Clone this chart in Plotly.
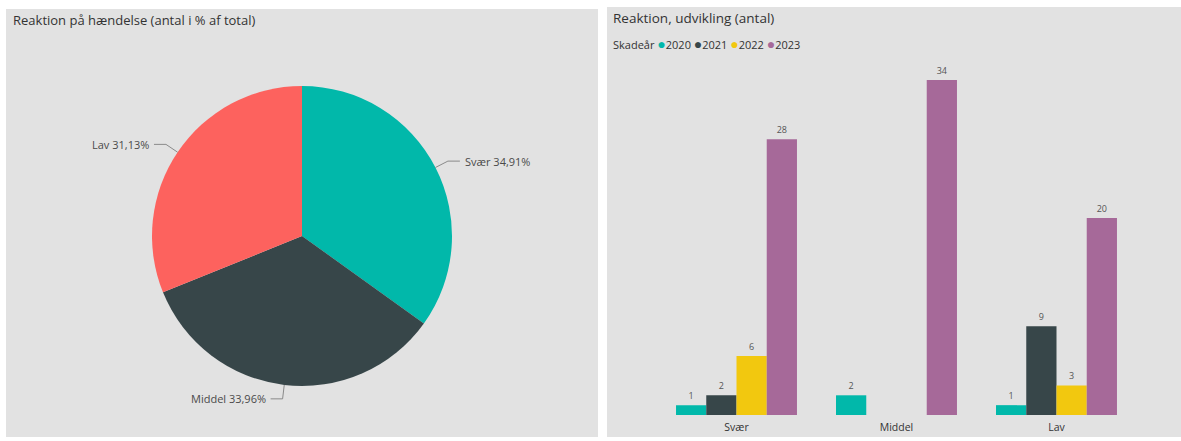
import math
import plotly.graph_objects as go

# ---- data ----
categories = ["Svær", "Middel", "Lav"]
years = ["2020", "2021", "2022", "2023"]
counts_2020 = [1, 2, 1]
counts_2021 = [2, None, 9]
counts_2022 = [6, None, 3]
counts_2023 = [28, 34, 20]
year_values = [counts_2020, counts_2021, counts_2022, counts_2023]
year_colors = ["#01B8AA", "#374649", "#F2C80F", "#A66999"]

pie_labels = categories
pie_values = [sum(v or 0 for v in col) for col in zip(*year_values)]
pie_colors = ["#01B8AA", "#374649", "#FD625E"]

left_title = "Reaktion på hændelse (antal i % af total)"
right_title = "Reaktion, udvikling (antal)"
legend_title = "Skadeår"

# ---- layout geometry ----
W, H = 1181, 441
FONT = "Open Sans"
BG = "#e2e2e2"
TXT = "#4a4a4a"

def px(x):
    return x / W

def py(y):
    return (H - y) / H

fig = go.Figure()

# pie
cx, cy, R = 302, 236, 150
fig.add_trace(go.Pie(
    labels=pie_labels, values=pie_values, sort=False, direction="clockwise",
    rotation=0, marker=dict(colors=pie_colors, line=dict(width=0)),
    textinfo="none", hoverinfo="label+percent", showlegend=False,
    domain=dict(x=[px(cx - R), px(cx + R)], y=[py(cy + R), py(cy - R)]),
))

# pie labels with leader lines computed from the values
total = sum(pie_values)
cum = 0
shapes = []
annotations = []
for lab, val in zip(pie_labels, pie_values):
    mid = (cum + val / 2) / total * 2 * math.pi
    cum += val
    s, c = math.sin(mid), math.cos(mid)
    ex, ey = cx + R * s, cy - R * c
    ox, oy = cx + (R + 14) * s, cy - (R + 14) * c
    side = 1 if s >= 0 else -1
    hx = ox + side * 12
    shapes.append(dict(type="path", xref="paper", yref="paper",
                       path=f"M {px(ex)},{py(ey)} L {px(ox)},{py(oy)} L {px(hx)},{py(oy)}",
                       line=dict(color="#8a8a8a", width=1)))
    pct = f"{val / total * 100:.2f}".replace(".", ",")
    annotations.append(dict(xref="paper", yref="paper", x=px(hx + side * 3), y=py(oy),
                            text=f"{lab} {pct}%", showarrow=False,
                            xanchor="left" if side > 0 else "right", yanchor="middle",
                            font=dict(family=FONT, size=11, color=TXT)))

# bars
for yr, vals, col in zip(years, year_values, year_colors):
    fig.add_trace(go.Bar(
        x=categories, y=vals, name=yr, marker=dict(color=col, line=dict(width=0)),
        text=[str(v) if v is not None else "" for v in vals], textposition="outside",
        textfont=dict(family=FONT, size=9, color="#555555"), cliponaxis=False,
        showlegend=False, xaxis="x", yaxis="y",
    ))

# panel backgrounds
shapes = [
    dict(type="rect", xref="paper", yref="paper", x0=px(6), x1=px(598), y0=py(437), y1=py(9),
         fillcolor=BG, line=dict(width=0), layer="below"),
    dict(type="rect", xref="paper", yref="paper", x0=px(607), x1=1, y0=py(437), y1=py(7),
         fillcolor=BG, line=dict(width=0), layer="below"),
] + shapes

# titles
annotations += [
    dict(xref="paper", yref="paper", x=px(11), y=py(20), text=left_title, showarrow=False,
         xanchor="left", yanchor="middle", font=dict(family=FONT, size=13, color="#333333")),
    dict(xref="paper", yref="paper", x=px(611), y=py(18), text=right_title, showarrow=False,
         xanchor="left", yanchor="middle", font=dict(family=FONT, size=13.5, color="#333333")),
]
legend_text = legend_title + " " + " ".join(
    f"<span style='color:{c};font-size:14px'>●</span>{y}" for y, c in zip(years, year_colors))
annotations.append(dict(xref="paper", yref="paper", x=px(611), y=py(43), text=legend_text,
                        showarrow=False, xanchor="left", yanchor="middle",
                        font=dict(family=FONT, size=11, color="#333333")))

fig.update_layout(
    width=W, height=H, margin=dict(l=0, r=0, t=0, b=0),
    paper_bgcolor="white", plot_bgcolor="rgba(0,0,0,0)",
    barmode="group", bargap=0.244, bargroupgap=0,
    xaxis=dict(domain=[px(656.5), px(1136.5)], anchor="y", showgrid=False, zeroline=False,
               showline=False, ticks="", ticklabelstandoff=4,
               tickfont=dict(family=FONT, size=10.5, color="#333333"), fixedrange=True),
    yaxis=dict(domain=[py(415), py(60.4)], range=[0, 36], anchor="x", visible=False,
               showgrid=False, fixedrange=True),
    shapes=shapes, annotations=annotations, showlegend=False,
    font=dict(family=FONT),
)

fig.write_html("out.html", config=dict(displayModeBar=False),
               post_script="document.body.style.margin='0';document.body.style.overflow='hidden';")
